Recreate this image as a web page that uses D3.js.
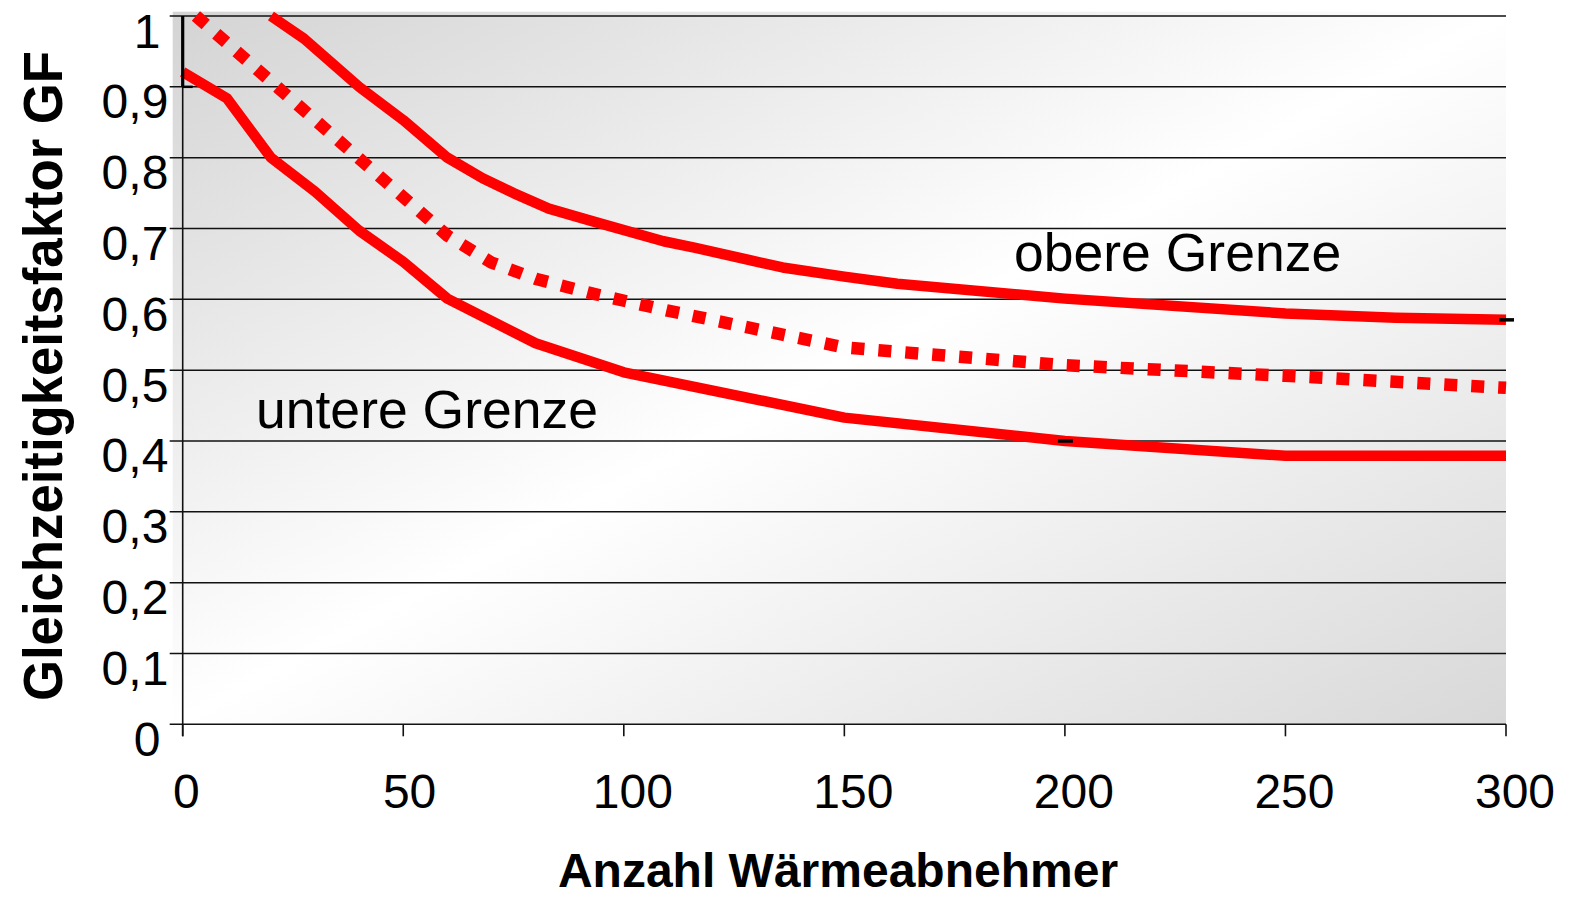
<!DOCTYPE html>
<html>
<head>
<meta charset="utf-8">
<script src="https://cdn.jsdelivr.net/npm/d3@7"></script>
<style>
  body { margin: 0; background: #fff; }
  text { font-family: "Liberation Sans", Arial, sans-serif; fill: #000; }
</style>
</head>
<body>
<svg id="chart" width="1577" height="898"></svg>
<script>
// values
var yTicks = [0, 0.1, 0.2, 0.3, 0.4, 0.5, 0.6, 0.7, 0.8, 0.9, 1];
var xTicks = [0, 50, 100, 150, 200, 250, 300];

var upperX = [20, 27.5, 40, 50, 60, 68, 75, 83, 93, 109, 116, 136, 150, 162, 200, 250, 275, 300];
var upperY = [1.0, 0.968, 0.90, 0.853, 0.80, 0.771, 0.75, 0.728, 0.71, 0.682, 0.673, 0.645, 0.632, 0.622, 0.601, 0.58, 0.574, 0.571];

var lowerX = [0, 10, 20, 30, 40, 50, 60, 80, 100, 150, 200, 250, 300];
var lowerY = [0.921, 0.884, 0.80, 0.752, 0.697, 0.653, 0.601, 0.538, 0.497, 0.433, 0.40, 0.379, 0.379];

var midX = [3, 60, 70, 80, 93, 110, 130, 150, 200, 250, 300];
var midY = [1.0, 0.69, 0.652, 0.629, 0.608, 0.584, 0.558, 0.532, 0.507, 0.492, 0.475];

// stray error-bar marks visible in the original
var barX = [0];
var barLo = [0.9];
var barHi = [1.0];
var capX = [200, 300];
var capY = [0.40, 0.571];

var svg = d3.select("#chart");

var x = d3.scaleLinear().domain([0, 300]).range([182.7, 1506]);
var y = d3.scaleLinear().domain([0, 1]).range([724.3, 16]);

// plot background, grey corners fading to white
var grad = svg.append("defs").append("linearGradient")
  .attr("id", "bg")
  .attr("x1", 0).attr("y1", 0).attr("x2", 1).attr("y2", 1);
grad.append("stop").attr("offset", 0).attr("stop-color", "#d4d4d4");
grad.append("stop").attr("offset", 0.5).attr("stop-color", "#ffffff");
grad.append("stop").attr("offset", 1).attr("stop-color", "#d8d8d8");

svg.append("rect")
  .attr("x", x(0) - 10).attr("y", y(1) - 4.3)
  .attr("width", x(300) - x(0) + 10)
  .attr("height", y(0) - y(1) + 4.3)
  .attr("fill", "url(#bg)");

// horizontal gridlines with left ticks
svg.append("g")
  .selectAll("line")
  .data(yTicks)
  .enter()
  .append("line")
  .attr("x1", x(0) - 13).attr("x2", x(300))
  .attr("y1", d => y(d)).attr("y2", d => y(d))
  .attr("stroke", "#111")
  .attr("stroke-width", 1.5);

// y axis line
svg.append("line")
  .attr("x1", x(0)).attr("x2", x(0))
  .attr("y1", y(1)).attr("y2", y(0) + 12)
  .attr("stroke", "#111").attr("stroke-width", 1.6);

// x ticks
svg.append("g")
  .selectAll("line")
  .data(xTicks)
  .enter()
  .append("line")
  .attr("x1", d => x(d)).attr("x2", d => x(d))
  .attr("y1", y(0)).attr("y2", y(0) + 12)
  .attr("stroke", "#111").attr("stroke-width", 1.6);

// y tick labels
svg.append("g")
  .selectAll("text")
  .data(yTicks)
  .enter()
  .append("text")
  .attr("y", d => y(d) + 31.5)
  .style("font-size", "48px")
  .text(d => d3.format(".1~f")(d).replace(".", ","))
  .each(function () {
    var w = this.getComputedTextLength();
    d3.select(this).attr("x", 155 - 0.8 * w);
  });

// x tick labels
svg.append("g")
  .selectAll("text")
  .data(xTicks)
  .enter()
  .append("text")
  .attr("y", 808)
  .style("font-size", "48px")
  .text(d => d)
  .each(function (d) {
    var w = this.getComputedTextLength();
    d3.select(this).attr("x", x(d) - 0.40 * w + 1);
  });

// axis titles
svg.append("text")
  .attr("x", 838).attr("y", 887)
  .attr("text-anchor", "middle")
  .style("font-size", "48px")
  .style("font-weight", "bold")
  .text("Anzahl Wärmeabnehmer");

svg.append("text")
  .attr("transform", "translate(62,376) rotate(-90)")
  .attr("text-anchor", "middle")
  .attr("textLength", 650)
  .attr("lengthAdjust", "spacingAndGlyphs")
  .style("font-size", "55px")
  .style("font-weight", "bold")
  .text("Gleichzeitigkeitsfaktor GF");

// curves
var line = d3.line()
  .x(d => x(d[0]))
  .y(d => y(d[1]));

svg.append("path")
  .datum(d3.zip(lowerX, lowerY))
  .attr("d", line)
  .attr("fill", "none")
  .attr("stroke", "#ff0000")
  .attr("stroke-width", 10.5)
  .attr("stroke-linejoin", "round");

svg.append("path")
  .datum(d3.zip(upperX, upperY))
  .attr("d", line)
  .attr("fill", "none")
  .attr("stroke", "#ff0000")
  .attr("stroke-width", 10.5)
  .attr("stroke-linejoin", "round");

svg.append("path")
  .datum(d3.zip(midX, midY))
  .attr("d", line)
  .attr("fill", "none")
  .attr("stroke", "#ff0000")
  .attr("stroke-width", 12.5)
  .attr("stroke-dasharray", "13,14");

// little black marks
var bars = svg.append("g");
barX.forEach(function (v, i) {
  bars.append("line")
    .attr("x1", x(v)).attr("x2", x(v))
    .attr("y1", y(barHi[i])).attr("y2", y(barLo[i]))
    .attr("stroke", "#000").attr("stroke-width", 3.2);
  bars.append("line")
    .attr("x1", x(v)).attr("x2", x(v) + 10)
    .attr("y1", y(barLo[i])).attr("y2", y(barLo[i]))
    .attr("stroke", "#000").attr("stroke-width", 2.5);
});

svg.append("g")
  .selectAll("line")
  .data(d3.zip(capX, capY))
  .enter()
  .append("line")
  .attr("x1", d => x(d[0]) - 7).attr("x2", d => x(d[0]) + 8)
  .attr("y1", d => y(d[1])).attr("y2", d => y(d[1]))
  .attr("stroke", "#000").attr("stroke-width", 3.5);

// annotations
svg.append("text")
  .attr("x", 1014).attr("y", 270.5)
  .style("font-size", "53.5px")
  .text("obere Grenze");

svg.append("text")
  .attr("x", 256).attr("y", 428)
  .style("font-size", "53.5px")
  .text("untere Grenze");
</script>
</body>
</html>
